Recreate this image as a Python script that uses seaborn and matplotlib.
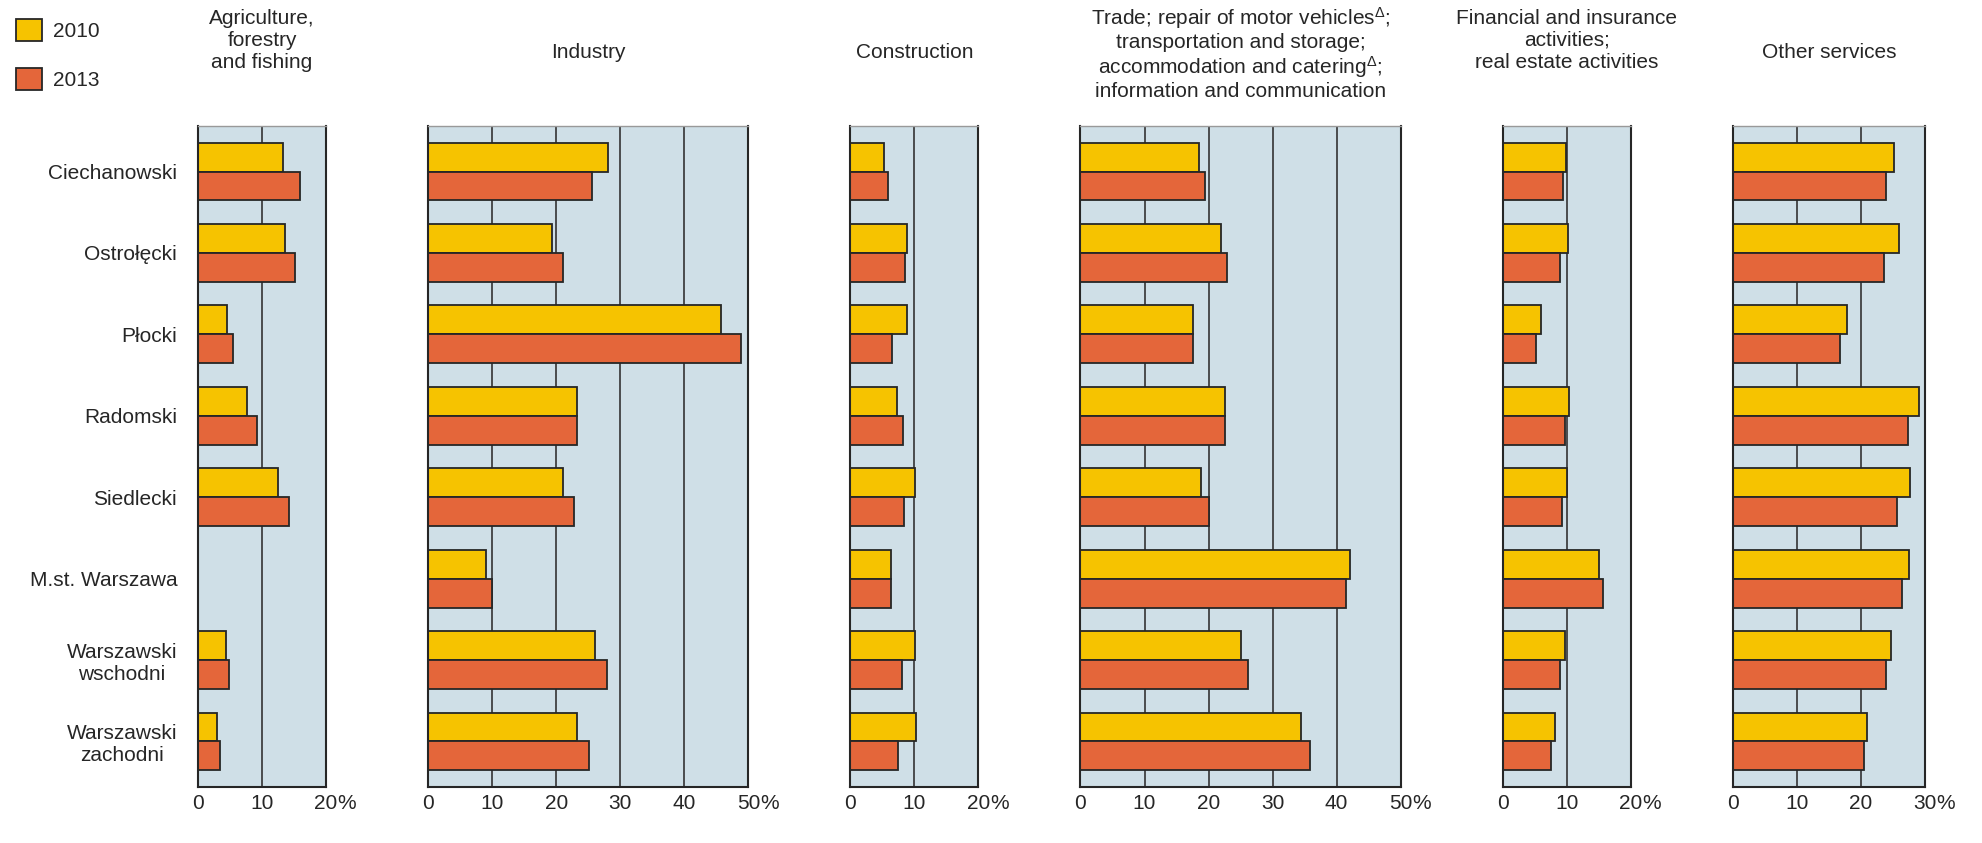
import numpy as np
import pandas as pd
import matplotlib.pyplot as plt
import seaborn as sns
from matplotlib.patches import Patch

regions = ['Ciechanowski', 'Ostrołęcki', 'Płocki', 'Radomski', 'Siedlecki',
           'M.st. Warszawa', 'Warszawski\nwschodni', 'Warszawski\nzachodni']
years = ['2010', '2013']

titles = ['Agriculture,\nforestry\nand fishing',
          'Industry',
          'Construction',
          'Trade; repair of motor vehicles$^{\\Delta}$;\ntransportation and storage;\n'
          'accommodation and catering$^{\\Delta}$;\ninformation and communication',
          'Financial and insurance\nactivities;\nreal estate activities',
          'Other services']
xmax = [20, 50, 20, 50, 20, 30]

# shares in %
agri_2010 = [13.3, 13.6, 4.6, 7.7, 12.5, np.nan, 4.3, 3.0]
agri_2013 = [16.0, 15.2, 5.5, 9.2, 14.2, np.nan, 4.8, 3.4]
ind_2010 = [28.1, 19.4, 45.8, 23.2, 21.0, 9.1, 26.1, 23.3]
ind_2013 = [25.6, 21.0, 48.8, 23.2, 22.7, 10.0, 28.0, 25.1]
cons_2010 = [5.3, 8.8, 8.8, 7.3, 10.1, 6.3, 10.1, 10.2]
cons_2013 = [5.9, 8.6, 6.5, 8.2, 8.3, 6.3, 8.1, 7.4]
trade_2010 = [18.5, 21.9, 17.5, 22.6, 18.8, 42.1, 25.1, 34.4]
trade_2013 = [19.4, 22.8, 17.5, 22.6, 20.0, 41.5, 26.2, 35.8]
fin_2010 = [9.9, 10.2, 5.9, 10.3, 10.1, 15.0, 9.7, 8.2]
fin_2013 = [9.4, 8.9, 5.2, 9.7, 9.2, 15.6, 9.0, 7.6]
other_2010 = [25.2, 26.0, 17.8, 29.0, 27.7, 27.5, 24.7, 21.0]
other_2013 = [23.9, 23.6, 16.7, 27.4, 25.6, 26.4, 23.9, 20.5]

series = [(agri_2010, agri_2013), (ind_2010, ind_2013), (cons_2010, cons_2013),
          (trade_2010, trade_2013), (fin_2010, fin_2013), (other_2010, other_2013)]

palette = {'2010': '#F6C300', '2013': '#E4663A'}
bg = '#CFDFE7'
dark = '#262626'

sns.set_style('white')
plt.rcParams['font.family'] = ['Liberation Sans', 'DejaVu Sans']
plt.rcParams['mathtext.fontset'] = 'custom'
plt.rcParams['mathtext.rm'] = 'Liberation Sans'
plt.rcParams['mathtext.it'] = 'Liberation Sans'
fs = 15

fig = plt.figure(figsize=(19.82, 8.43), dpi=100)
gs = fig.add_gridspec(1, 6, width_ratios=xmax, left=198 / 1982, right=1925 / 1982,
                      top=1 - 126 / 843, bottom=1 - 787 / 843, wspace=0.503)

for i, ((v10, v13), title, xm) in enumerate(zip(series, titles, xmax)):
    ax = fig.add_subplot(gs[0, i])
    df = pd.DataFrame({
        'region': regions * 2,
        'year': ['2010'] * len(regions) + ['2013'] * len(regions),
        'share': list(v10) + list(v13),
    })
    sns.barplot(data=df, y='region', x='share', hue='year', hue_order=years,
                palette=palette, orient='h', width=0.71, errorbar=None,
                edgecolor=dark, linewidth=1.3, saturation=1, legend=False, ax=ax)
    ax.set_facecolor(bg)
    ax.set_axisbelow(True)
    ax.set_xlim(0, xm)
    ax.set_ylim(7.56, -0.56)
    ticks = list(range(0, xm + 1, 10))
    ax.set_xticks(ticks)
    ax.set_xticklabels([str(t) for t in ticks], fontsize=fs)
    ax.grid(axis='x', color='#333333', linewidth=1.2)
    ax.grid(axis='y', visible=False)
    ax.tick_params(axis='x', direction='out', length=3, width=1, color=dark, pad=2)
    ax.set_xlabel('')
    ax.set_ylabel('')
    for side in ['left', 'right', 'bottom']:
        ax.spines[side].set_color(dark)
        ax.spines[side].set_linewidth(1.5)
    ax.spines['top'].set_color('#999999')
    ax.spines['top'].set_linewidth(1)
    ax.annotate('%', xy=(1, 0), xycoords='axes fraction', xytext=(8.3, -5),
                textcoords='offset points', ha='left', va='top', fontsize=fs)
    if i == 0:
        ax.tick_params(axis='y', length=0, pad=15, labelsize=fs)
        for lab in ax.get_yticklabels():
            lab.set_multialignment('center')
    else:
        ax.tick_params(axis='y', length=0, labelleft=False)

    bb = ax.get_position()
    xc = (bb.x0 + bb.x1) / 2
    if '$' in title:
        fig.text(xc, 1 - 5 / 843, title, ha='center', va='top', multialignment='center',
                 fontsize=fs, linespacing=1.12)
    elif '\n' in title:
        fig.text(xc, 1 - 9 / 843, title, ha='center', va='top', multialignment='center',
                 fontsize=fs, linespacing=1.19)
    else:
        fig.text(xc, 1 - 52 / 843, title, ha='center', va='center', fontsize=fs)

handles = [Patch(facecolor=palette[y], edgecolor=dark, linewidth=1.3, label=y) for y in years]
fig.legend(handles=handles, loc='upper left', bbox_to_anchor=(16 / 1982, 1 - 19 / 843),
           frameon=False, fontsize=fs, handlelength=1.25, handleheight=1.25,
           labelspacing=1.3, handletextpad=0.55, borderpad=0, borderaxespad=0)

fig.savefig('out.png', dpi=100)
